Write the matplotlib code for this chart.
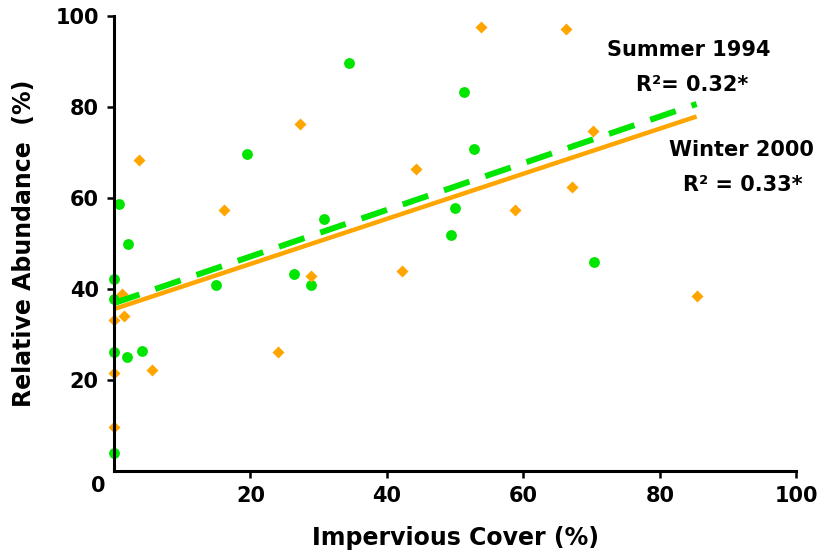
import numpy as np
import matplotlib
matplotlib.use('Agg')
import matplotlib.pyplot as plt

# Summer 1994 (green circles)
summer_x = [0, 0, 0, 0, 0.8, 2.1, 1.9, 4.1, 14.9, 19.5, 26.4, 28.9, 30.8, 34.5,
            49.4, 50.0, 51.3, 52.7, 70.3]
summer_y = [42.2, 37.8, 26.1, 4.0, 58.6, 50.0, 25.1, 26.4, 41.0, 69.6, 43.4, 41.0,
            55.4, 89.8, 51.9, 57.8, 83.4, 70.8, 46.0]

# Winter 2000 (orange diamonds)
winter_x = [0, 0, 0, 1.2, 1.4, 3.7, 5.5, 16.1, 24.1, 27.2, 28.9, 42.2, 44.2,
            53.8, 58.8, 66.2, 67.2, 70.2, 85.4]
winter_y = [33.2, 21.6, 9.6, 38.9, 34.1, 68.3, 22.3, 57.4, 26.2, 76.2, 42.9, 44.0,
            66.4, 97.7, 57.4, 97.1, 62.5, 74.8, 38.4]

# regression lines (intercept, slope)
summer_fit = (36.9, 0.513)
winter_fit = (35.6, 0.496)
fit_range = [0, 85.4]

ticks = [20, 40, 60, 80, 100]

green = '#00e600'
orange = '#ffa500'

fig = plt.figure(figsize=(8.2, 5.6), dpi=100)
ax = fig.add_axes([0.139, 0.159, 0.832, 0.812])

ax.plot(summer_x, summer_y, 'o', color=green, markersize=7.8, mec='none',
        clip_on=False, zorder=3)
ax.plot(winter_x, winter_y, 'D', color=orange, markersize=6.5, mec='none',
        clip_on=False, zorder=3)

xs = np.array(fit_range)
ax.plot(xs, winter_fit[0] + winter_fit[1] * xs, '-', color=orange, lw=3.2,
        solid_capstyle='butt', zorder=4)
ax.plot(xs, summer_fit[0] + summer_fit[1] * xs, '--', color=green, lw=4.3,
        dashes=(4.5, 2.8), zorder=5)

ax.set_xlim(0, 100)
ax.set_ylim(0, 100)
ax.set_xticks(ticks)
ax.set_yticks(ticks)

for s in ['top', 'right']:
    ax.spines[s].set_visible(False)
for s in ['left', 'bottom']:
    ax.spines[s].set_linewidth(2.2)
    ax.spines[s].set_zorder(6)

ax.tick_params(direction='out', length=5, width=1.8, labelsize=15, pad=6)
for lbl in ax.get_xticklabels() + ax.get_yticklabels():
    lbl.set_fontweight('bold')

ax.text(-0.012, -0.012, '0', transform=ax.transAxes, ha='right', va='top',
        fontsize=15, fontweight='bold')

ax.set_xlabel('Impervious Cover (%)', fontsize=17, fontweight='bold', labelpad=14)
ax.set_ylabel('Relative Abundance  (%)', fontsize=17, fontweight='bold', labelpad=14)

ax.text(0.842, 0.925, 'Summer 1994', transform=ax.transAxes, ha='center',
        va='center', fontsize=15, fontweight='bold')
ax.text(0.848, 0.848, 'R²= 0.32*', transform=ax.transAxes, ha='center',
        va='center', fontsize=15, fontweight='bold')
ax.text(0.920, 0.705, 'Winter 2000', transform=ax.transAxes, ha='center',
        va='center', fontsize=15, fontweight='bold')
ax.text(0.922, 0.629, 'R² = 0.33*', transform=ax.transAxes, ha='center',
        va='center', fontsize=15, fontweight='bold')

fig.savefig('out.png', dpi=100)
